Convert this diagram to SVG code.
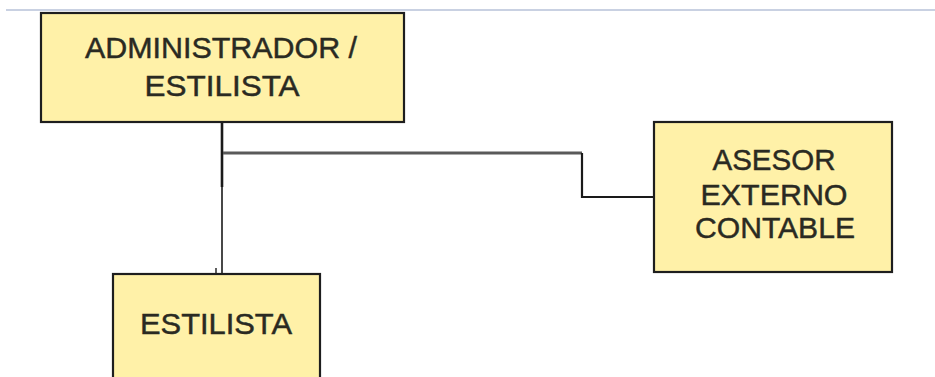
<svg xmlns="http://www.w3.org/2000/svg" width="935" height="377" viewBox="0 0 935 377">
  <style>
    .box { fill: #FFF1A8; stroke: #1e1e1e; stroke-width: 2.2; }
    .lbl { font-family: "Liberation Sans", Arial, sans-serif; font-size: 30px; fill: #2a2a22; stroke: #2a2a22; stroke-width: 0.45; text-anchor: middle; }
    .wire { fill: none; stroke: #1a1a1a; stroke-linecap: butt; stroke-linejoin: miter; }
    .wire.soft { stroke: #5a5a5a; }
  </style>
  <rect width="935" height="377" fill="#ffffff"/>
  <!-- page rule along the top -->
  <line x1="6" y1="10" x2="935" y2="10" stroke="#c9d1e2" stroke-width="2"/>

  <g id="connectors">
    <!-- trunk from the administrator down to the stylist -->
    <line class="wire" x1="222" y1="122" x2="222" y2="187" stroke-width="2.6"/>
    <line class="wire" x1="222" y1="187" x2="222" y2="274" stroke-width="1.6"/>
    <line class="wire" x1="216" y1="268" x2="216" y2="274" stroke-width="1.4"/>
    <!-- branch to the external accountant -->
    <line class="wire soft" x1="223" y1="153" x2="582" y2="153" stroke-width="3.2"/>
    <polyline class="wire" points="582,153 582,197 654,197" stroke-width="2.2"/>
  </g>

  <g id="node-administrador">
    <rect class="box" x="41" y="13" width="363" height="109"/>
    <text class="lbl" x="221" y="58" textLength="272" lengthAdjust="spacingAndGlyphs">ADMINISTRADOR /</text>
    <text class="lbl" x="222" y="96" textLength="155" lengthAdjust="spacingAndGlyphs">ESTILISTA</text>
  </g>

  <g id="node-asesor">
    <rect class="box" x="654" y="122" width="238" height="150"/>
    <text class="lbl" x="774" y="170" textLength="123" lengthAdjust="spacingAndGlyphs">ASESOR</text>
    <text class="lbl" x="774" y="205" textLength="147" lengthAdjust="spacingAndGlyphs">EXTERNO</text>
    <text class="lbl" x="775" y="238" textLength="160" lengthAdjust="spacingAndGlyphs">CONTABLE</text>
  </g>

  <g id="node-estilista">
    <rect class="box" x="113" y="274" width="207" height="110"/>
    <text class="lbl" x="216" y="334" textLength="152" lengthAdjust="spacingAndGlyphs">ESTILISTA</text>
  </g>
</svg>
